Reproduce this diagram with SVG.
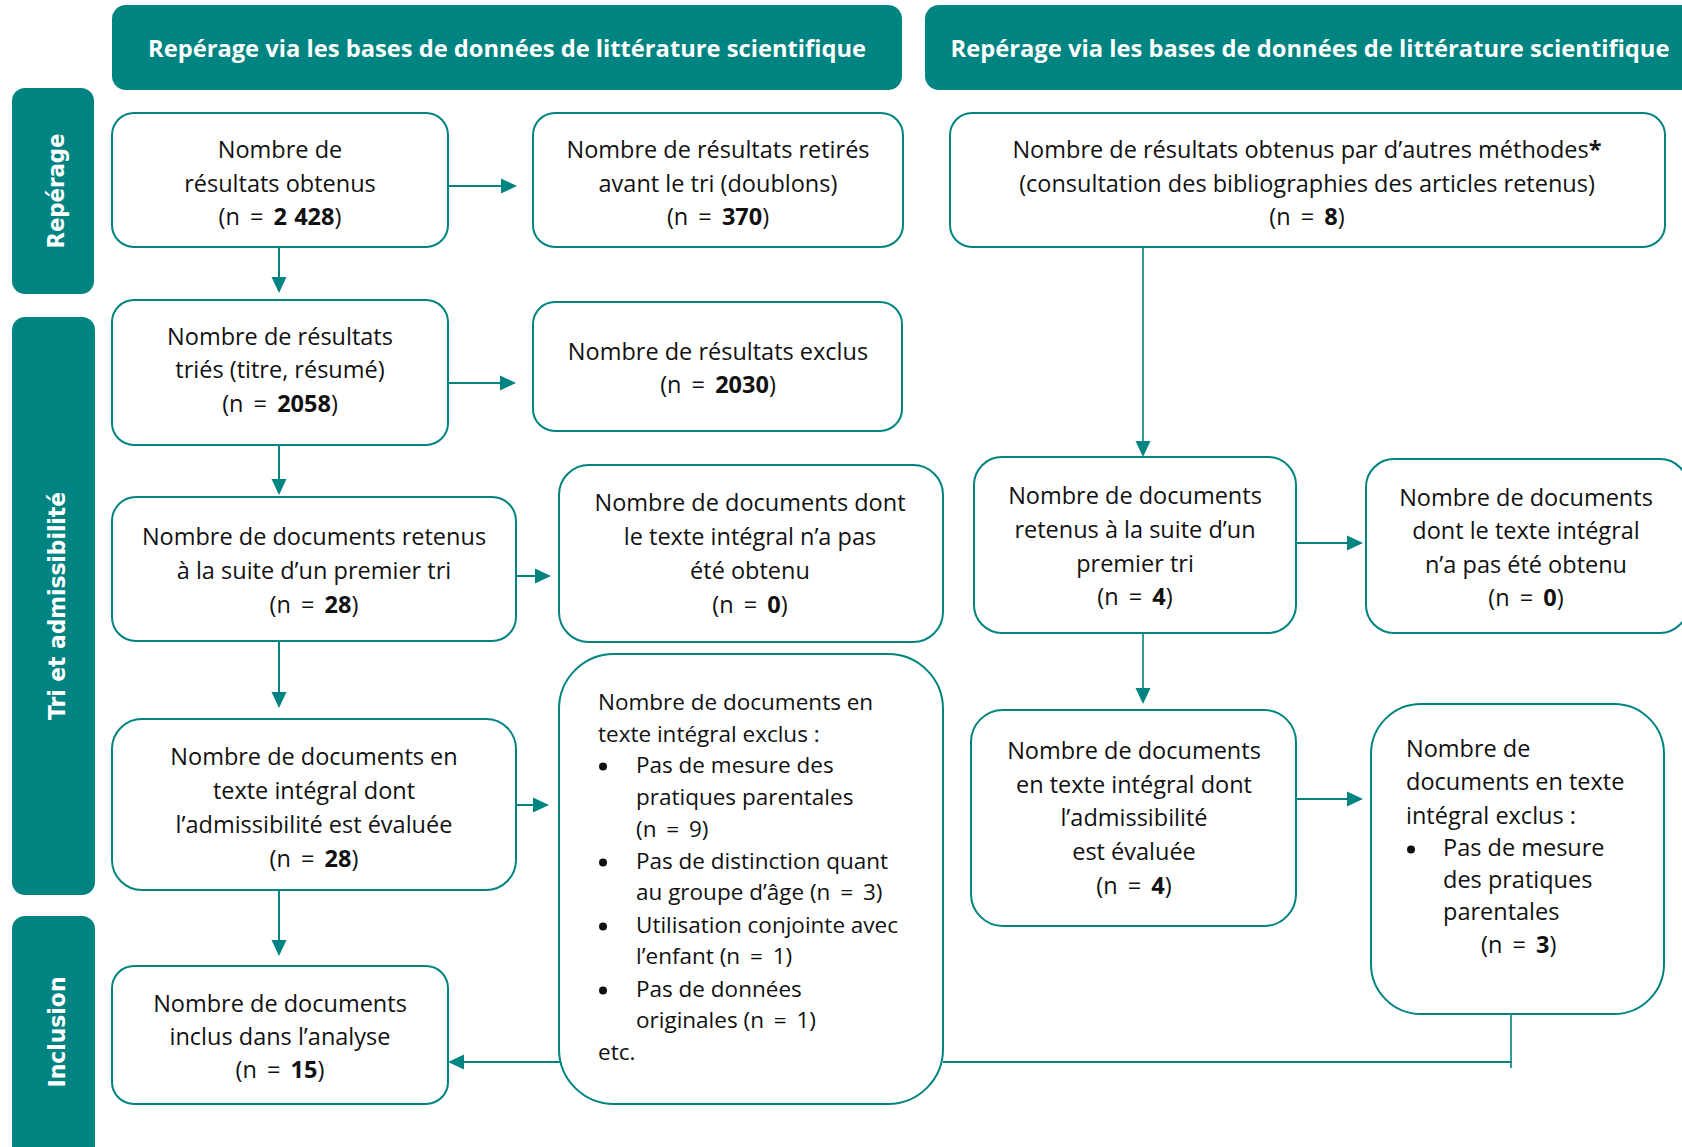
<svg xmlns="http://www.w3.org/2000/svg" width="1682" height="1147" viewBox="0 0 1682 1147">
<defs>
<style>
.band{fill:#008481;}
.hdr{fill:#008481;}
.box{fill:#ffffff;stroke:#008481;stroke-width:2;}
.t{font-family:"Open Sans","Noto Sans","Liberation Sans",sans-serif;font-size:23.5px;fill:#111111;}
.tc{text-anchor:middle;}
.ts{font-size:22.5px;}
.n{word-spacing:4px;}
.b{font-weight:bold;word-spacing:1px;}
.ht{font-family:"Open Sans","Noto Sans","Liberation Sans",sans-serif;font-size:24px;font-weight:bold;fill:#ffffff;text-anchor:middle;}
.bt{font-family:"DejaVu Sans","Verdana",sans-serif;font-size:23px;font-weight:bold;fill:#ffffff;text-anchor:middle;}
.c{fill:none;stroke:#008481;stroke-width:2;}
.thin{fill:none;stroke:#008481;stroke-width:1.6;}
.dot{fill:#111111;}
</style>
<marker id="ah" markerUnits="userSpaceOnUse" markerWidth="16" markerHeight="16" refX="0" refY="7.5" orient="auto" viewBox="0 0 16 15">
<path d="M0,0 L16,7.5 L0,15 Z" fill="#008481"/>
</marker>
</defs>
<rect width="1682" height="1147" fill="#ffffff"/>

<g id="connectors">
<path class="c" d="M448,186 H501" marker-end="url(#ah)"/>
<path class="c" d="M279,247 V277" marker-end="url(#ah)"/>
<path class="c" d="M448,383 H500" marker-end="url(#ah)"/>
<path class="c" d="M279,445 V479" marker-end="url(#ah)"/>
<path class="c" d="M516,576 H535" marker-end="url(#ah)"/>
<path class="c" d="M279,641 V692" marker-end="url(#ah)"/>
<path class="c" d="M516,805 H533" marker-end="url(#ah)"/>
<path class="c" d="M279,890 V940" marker-end="url(#ah)"/>
<path class="c" d="M560,1062 H464" marker-end="url(#ah)"/>
<path class="thin" d="M1511,1014 V1068"/>
<path class="c" d="M1512,1062 H943"/>
<path class="thin" d="M1143,247 V441" marker-end="url(#ah)"/>
<path class="c" d="M1296,543 H1347" marker-end="url(#ah)"/>
<path class="thin" d="M1143,633 V688" marker-end="url(#ah)"/>
<path class="c" d="M1296,799 H1347" marker-end="url(#ah)"/>
</g>

<g id="header-left">
<rect class="hdr" x="112" y="5" width="790" height="85" rx="14"/>
<text class="ht" x="507" y="57" textLength="718" lengthAdjust="spacingAndGlyphs">Repérage via les bases de données de littérature scientifique</text>
</g>
<g id="header-right">
<rect class="hdr" x="925" y="5" width="780" height="85" rx="14"/>
<text class="ht" x="1310" y="57" textLength="719" lengthAdjust="spacingAndGlyphs">Repérage via les bases de données de littérature scientifique</text>
</g>

<g id="band-reperage">
<rect class="band" x="12" y="88" width="82" height="206" rx="13"/>
<text class="bt" transform="translate(64,191) rotate(-90)" textLength="115" lengthAdjust="spacingAndGlyphs">Repérage</text>
</g>
<g id="band-tri">
<rect class="band" x="12" y="317" width="83" height="578" rx="13"/>
<text class="bt" transform="translate(65,606) rotate(-90)" textLength="228" lengthAdjust="spacingAndGlyphs">Tri et admissibilité</text>
</g>
<g id="band-inclusion">
<rect class="band" x="12" y="916" width="83" height="250" rx="13"/>
<text class="bt" transform="translate(65,1032) rotate(-90)" textLength="111" lengthAdjust="spacingAndGlyphs">Inclusion</text>
</g>

<g id="n-obtenus">
<rect class="box" x="112" y="113" width="336" height="134" rx="22"/>
<text class="t tc" x="280" y="158">Nombre de</text>
<text class="t tc" x="280" y="192">résultats obtenus</text>
<text class="t tc n" x="280" y="225">(n = <tspan class="b">2 428</tspan>)</text>
</g>

<g id="n-retires">
<rect class="box" x="533" y="113" width="370" height="134" rx="22"/>
<text class="t tc" x="718" y="158">Nombre de résultats retirés</text>
<text class="t tc" x="718" y="192">avant le tri (doublons)</text>
<text class="t tc n" x="718" y="225">(n = <tspan class="b">370</tspan>)</text>
</g>

<g id="n-autres">
<rect class="box" x="950" y="113" width="715" height="134" rx="22"/>
<text class="t tc" x="1307" y="158">Nombre de résultats obtenus par d’autres méthodes<tspan class="b">*</tspan></text>
<text class="t tc" x="1307" y="192">(consultation des bibliographies des articles retenus)</text>
<text class="t tc n" x="1307" y="225">(n = <tspan class="b">8</tspan>)</text>
</g>

<g id="n-tries">
<rect class="box" x="112" y="300" width="336" height="145" rx="22"/>
<text class="t tc" x="280" y="345">Nombre de résultats</text>
<text class="t tc" x="280" y="378">triés (titre, résumé)</text>
<text class="t tc n" x="280" y="412">(n = <tspan class="b">2058</tspan>)</text>
</g>

<g id="n-exclus">
<rect class="box" x="533" y="302" width="369" height="129" rx="22"/>
<text class="t tc" x="718" y="360">Nombre de résultats exclus</text>
<text class="t tc n" x="718" y="393">(n = <tspan class="b">2030</tspan>)</text>
</g>

<g id="n-retenus">
<rect class="box" x="112" y="497" width="404" height="144" rx="24"/>
<text class="t tc" x="314" y="545">Nombre de documents retenus</text>
<text class="t tc" x="314" y="579">à la suite d’un premier tri</text>
<text class="t tc n" x="314" y="613">(n = <tspan class="b">28</tspan>)</text>
</g>

<g id="n-non-obtenu">
<rect class="box" x="559" y="465" width="384" height="177" rx="30"/>
<text class="t tc" x="750" y="511">Nombre de documents dont</text>
<text class="t tc" x="750" y="545">le texte intégral n’a pas</text>
<text class="t tc" x="750" y="579">été obtenu</text>
<text class="t tc n" x="750" y="613">(n = <tspan class="b">0</tspan>)</text>
</g>

<g id="n-admissibilite">
<rect class="box" x="112" y="719" width="404" height="171" rx="30"/>
<text class="t tc" x="314" y="765">Nombre de documents en</text>
<text class="t tc" x="314" y="799">texte intégral dont</text>
<text class="t tc" x="314" y="833">l’admissibilité est évaluée</text>
<text class="t tc n" x="314" y="867">(n = <tspan class="b">28</tspan>)</text>
</g>

<g id="n-exclus-texte">
<rect class="box" x="559" y="654" width="384" height="450" rx="55"/>
<text class="t ts" x="598" y="710">Nombre de documents en</text>
<text class="t ts" x="598" y="742">texte intégral exclus :</text>
<circle class="dot" cx="603" cy="766.5" r="4"/>
<text class="t ts" x="636" y="773">Pas de mesure des</text>
<text class="t ts" x="636" y="805">pratiques parentales</text>
<text class="t ts n" x="636" y="837">(n = 9)</text>
<circle class="dot" cx="603" cy="862.5" r="4"/>
<text class="t ts" x="636" y="869">Pas de distinction quant</text>
<text class="t ts" x="636" y="900">au groupe d’âge <tspan class="n">(n = 3)</tspan></text>
<circle class="dot" cx="603" cy="926.5" r="4"/>
<text class="t ts" x="636" y="933">Utilisation conjointe avec</text>
<text class="t ts" x="636" y="964">l’enfant <tspan class="n">(n = 1)</tspan></text>
<circle class="dot" cx="603" cy="990.5" r="4"/>
<text class="t ts" x="636" y="997">Pas de données</text>
<text class="t ts" x="636" y="1028">originales <tspan class="n">(n = 1)</tspan></text>
<text class="t ts" x="598" y="1060">etc.</text>
</g>

<g id="n-inclus">
<rect class="box" x="112" y="966" width="336" height="138" rx="22"/>
<text class="t tc" x="280" y="1012">Nombre de documents</text>
<text class="t tc" x="280" y="1045">inclus dans l’analyse</text>
<text class="t tc n" x="280" y="1078">(n = <tspan class="b">15</tspan>)</text>
</g>

<g id="r-retenus">
<rect class="box" x="974" y="457" width="322" height="176" rx="28"/>
<text class="t tc" x="1135" y="504">Nombre de documents</text>
<text class="t tc" x="1135" y="538">retenus à la suite d’un</text>
<text class="t tc" x="1135" y="572">premier tri</text>
<text class="t tc n" x="1135" y="605">(n = <tspan class="b">4</tspan>)</text>
</g>

<g id="r-non-obtenu">
<rect class="box" x="1366" y="459" width="322" height="174" rx="28"/>
<text class="t tc" x="1526" y="506">Nombre de documents</text>
<text class="t tc" x="1526" y="539">dont le texte intégral</text>
<text class="t tc" x="1526" y="573">n’a pas été obtenu</text>
<text class="t tc n" x="1526" y="606">(n = <tspan class="b">0</tspan>)</text>
</g>

<g id="r-admissibilite">
<rect class="box" x="971" y="710" width="325" height="216" rx="32"/>
<text class="t tc" x="1134" y="759">Nombre de documents</text>
<text class="t tc" x="1134" y="793">en texte intégral dont</text>
<text class="t tc" x="1134" y="826">l’admissibilité</text>
<text class="t tc" x="1134" y="860">est évaluée</text>
<text class="t tc n" x="1134" y="894">(n = <tspan class="b">4</tspan>)</text>
</g>

<g id="r-exclus-texte">
<rect class="box" x="1371" y="704" width="293" height="310" rx="50"/>
<text class="t" x="1406" y="757">Nombre de</text>
<text class="t" x="1406" y="790">documents en texte</text>
<text class="t" x="1406" y="824">intégral exclus :</text>
<circle class="dot" cx="1411" cy="849.5" r="4"/>
<text class="t" x="1443" y="856">Pas de mesure</text>
<text class="t" x="1443" y="888">des pratiques</text>
<text class="t" x="1443" y="920">parentales</text>
<text class="t n" x="1481" y="953">(n = <tspan class="b">3</tspan>)</text>
</g>
</svg>
